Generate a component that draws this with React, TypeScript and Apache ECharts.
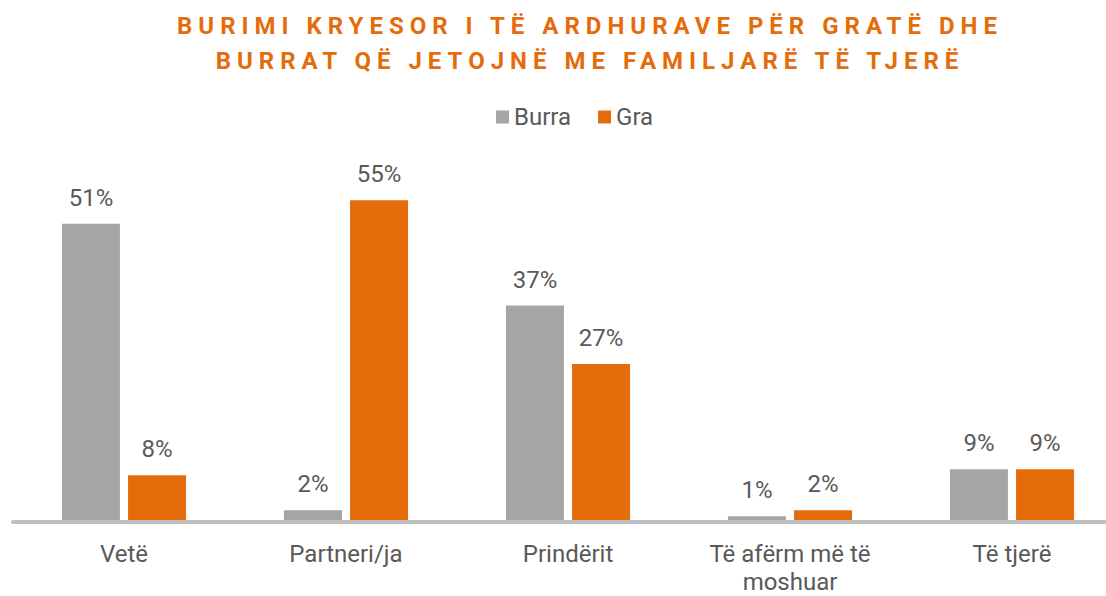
import React, { useEffect, useRef } from "react";
import * as echarts from "echarts";

const titleLines = [
  "BURIMI KRYESOR I TË ARDHURAVE PËR GRATË DHE",
  "BURRAT QË JETOJNË ME FAMILJARË TË TJERË",
];
const categories = ["Vetë", "Partneri/ja", "Prindërit", "Të afërm më të\nmoshuar", "Të tjerë"];
const seriesNames = ["Burra", "Gra"];
const burra = [51, 2, 37, 1, 9];
const gra = [8, 55, 27, 2, 9];

const ORANGE = "#E46C0A";
const GRAY = "#A5A5A5";
const TEXT = "#595959";
const LETTER_SPACING = 6;

export default function App() {
  const ref = useRef<HTMLDivElement>(null);

  useEffect(() => {
    if (!ref.current) return;
    const chart = echarts.init(ref.current, undefined, { renderer: "svg" });
    const labelStyle = {
      show: true,
      position: "top" as const,
      distance: 14,
      color: TEXT,
      fontSize: 24,
      fontFamily: "Roboto",
      formatter: (p: any) => `${p.value}%`,
    };
    chart.setOption({
      animation: false,
      backgroundColor: "#ffffff",
      graphic: titleLines.map((t, i) => ({
        type: "text",
        x: 587 + LETTER_SPACING / 2,
        y: 26 + i * 35,
        silent: true,
        style: {
          text: t,
          fill: ORANGE,
          font: "bold 24px Roboto",
          textAlign: "center",
          textVerticalAlign: "middle",
        },
      })),
      legend: {
        data: seriesNames,
        left: 491,
        top: 100,
        itemWidth: 13,
        itemHeight: 13,
        itemGap: 27,
        icon: "rect",
        textStyle: { color: TEXT, fontSize: 24, fontFamily: "Roboto", padding: [0, 0, 0, 0] },
      },
      grid: { left: 13, width: 1110, top: 171, bottom: 74, outerBoundsMode: "none", containLabel: false },
      xAxis: {
        type: "category",
        data: categories,
        z: 3,
        axisLine: { lineStyle: { color: "#BFBFBF", width: 4 } },
        axisTick: { show: false },
        axisLabel: {
          color: TEXT,
          fontSize: 24,
          fontFamily: "Roboto",
          margin: 18,
          lineHeight: 28,
          interval: 0,
        },
      },
      yAxis: {
        type: "value",
        min: 0,
        max: 60,
        show: false,
        splitLine: { show: false },
      },
      series: [
        {
          name: seriesNames[0],
          type: "bar",
          data: burra,
          barWidth: 58,
          barGap: "14%",
          itemStyle: { color: GRAY },
          label: labelStyle,
        },
        {
          name: seriesNames[1],
          type: "bar",
          data: gra,
          barWidth: 58,
          barGap: "14%",
          itemStyle: { color: ORANGE },
          label: labelStyle,
        },
      ],
    });

    const applySpacing = () => {
      const texts = ref.current?.querySelectorAll("text") ?? [];
      texts.forEach((el) => {
        const c = el.textContent || "";
        if (titleLines.includes(c)) {
          (el as SVGTextElement).style.letterSpacing = `${LETTER_SPACING}px`;
        }
      });
    };
    applySpacing();
    chart.on("finished", applySpacing);

    return () => {
      chart.dispose();
    };
  }, []);

  return (
    <div
      ref={ref}
      style={{ position: "fixed", left: 0, top: 0, width: 1106, height: 596 }}
    />
  );
}
